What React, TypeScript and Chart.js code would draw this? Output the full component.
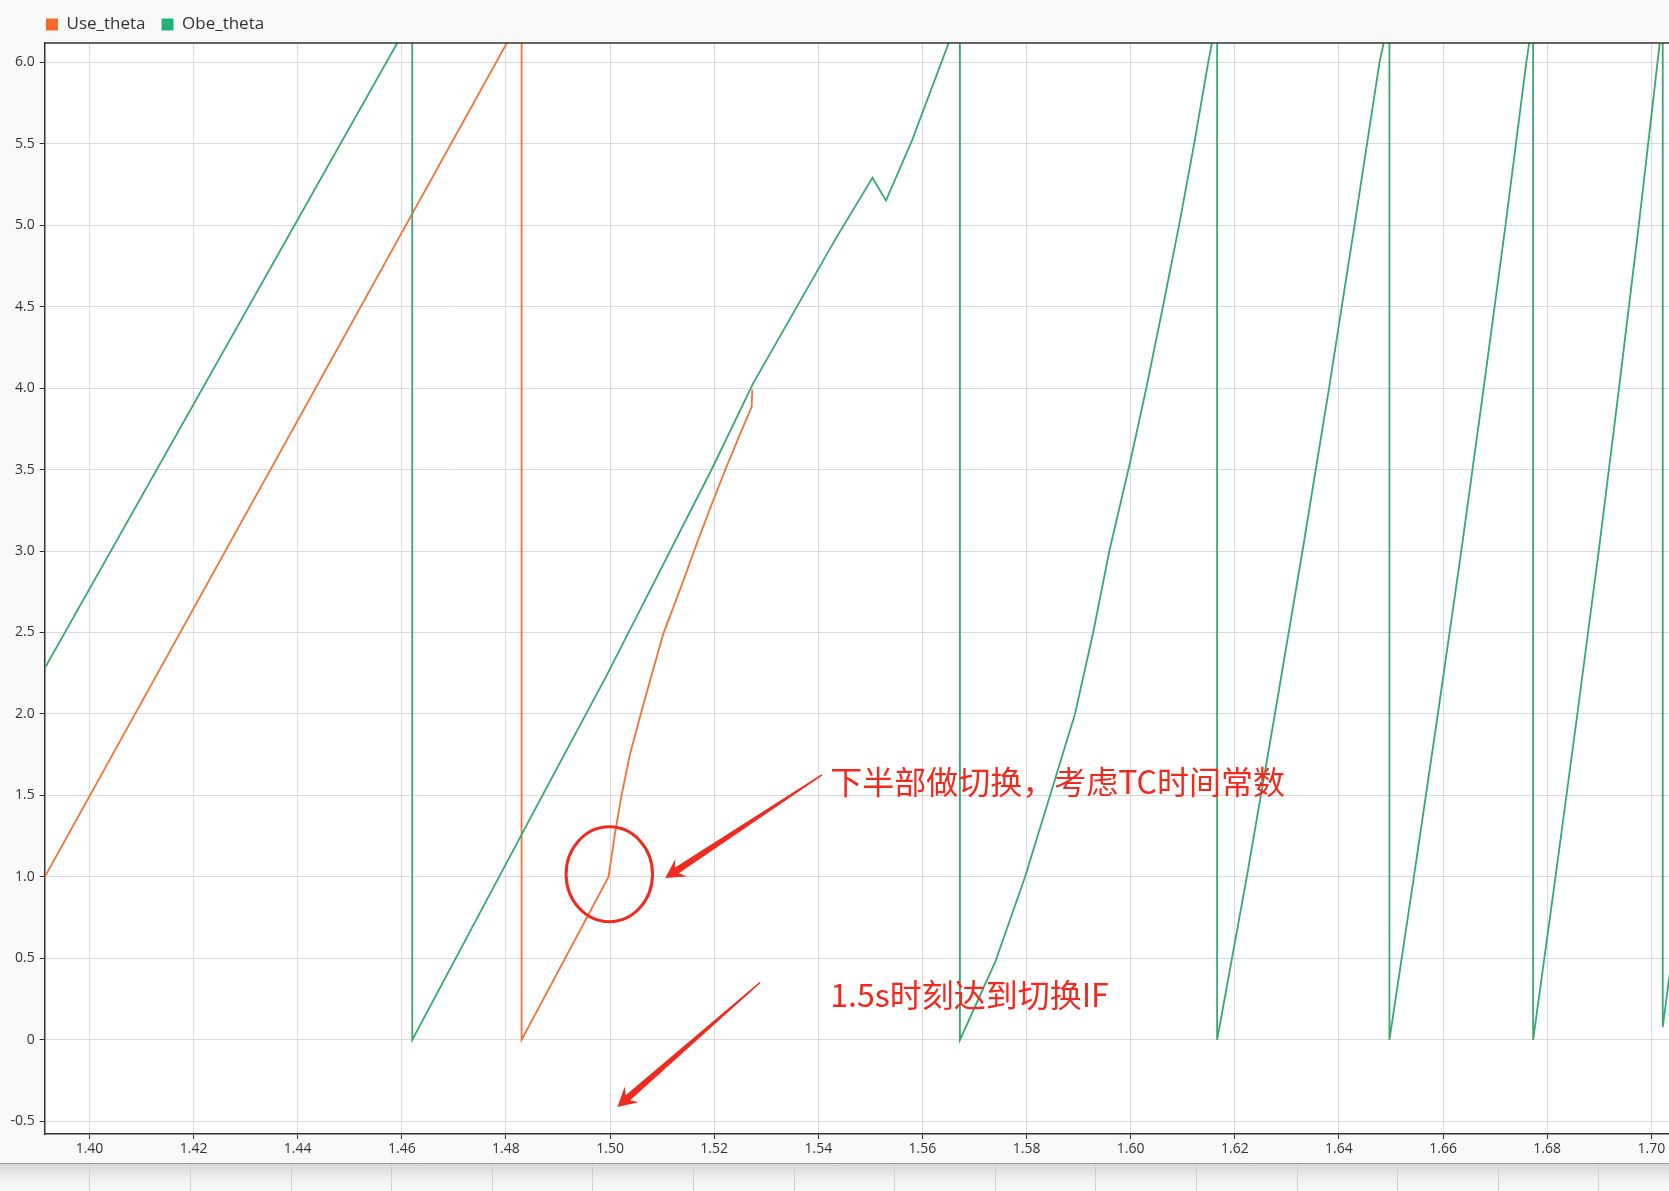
import { useEffect, useRef } from 'react';
import { Chart, registerables } from 'chart.js';

Chart.register(...registerables);

// ---------- data ----------
const seriesNames = ['Use_theta', 'Obe_theta'];

const useTime = [1.3914, 1.4830, 1.4830, 1.4997, 1.5010, 1.5022, 1.5038, 1.5064, 1.5102, 1.5141, 1.5167, 1.5198, 1.5224, 1.5250, 1.5272, 1.5273];
const useTheta = [1.00, 6.28, 0.00, 1.00, 1.28, 1.50, 1.75, 2.06, 2.49, 2.82, 3.05, 3.31, 3.52, 3.72, 3.885, 3.99];

const obeTime = [
  1.3914, 1.4620, 1.4620, 1.4865, 1.4994, 1.5195, 1.5275, 1.5434, 1.5504, 1.5530, 1.5580, 1.5672,
  1.5672, 1.5740, 1.5797, 1.5850, 1.5893, 1.5928, 1.5959, 1.6000, 1.6030, 1.6062, 1.6093, 1.6122, 1.6149, 1.6166,
  1.6166, 1.6223, 1.6277, 1.6330, 1.6381, 1.6430, 1.6478, 1.6497,
  1.6497, 1.6544, 1.6590, 1.6635, 1.6678, 1.6720, 1.6760, 1.6773,
  1.6773, 1.6816, 1.6858, 1.6899, 1.6938, 1.6976, 1.7012, 1.7022,
  1.7022, 1.7036,
];
const obeTheta = [
  2.28, 6.28, 0.00, 1.47, 2.24, 3.50, 4.03, 4.92, 5.29, 5.15, 5.52, 6.30,
  0.00, 0.48, 1.00, 1.55, 2.00, 2.50, 3.00, 3.56, 4.00, 4.50, 5.00, 5.50, 6.00, 6.28,
  0.00, 1.00, 2.00, 3.00, 4.00, 5.00, 6.00, 6.28,
  0.00, 1.00, 2.00, 3.00, 4.00, 5.00, 6.00, 6.28,
  0.00, 1.00, 2.00, 3.00, 4.00, 5.00, 6.00, 6.28,
  0.08, 0.42,
];

const xTickValues = [1.40, 1.42, 1.44, 1.46, 1.48, 1.50, 1.52, 1.54, 1.56, 1.58, 1.60, 1.62, 1.64, 1.66, 1.68, 1.70];
const yTickValues = [-0.5, 0, 0.5, 1.0, 1.5, 2.0, 2.5, 3.0, 3.5, 4.0, 4.5, 5.0, 5.5, 6.0];
const xRange = [1.3914, 1.7034];
const yRange = [-0.577, 6.117];

const noteTexts = ['下半部做切换，考虑TC时间常数', '1.5s时刻达到切换IF'];

// ---------- styling / annotation placement (in data units) ----------
const lineColors = ['#F07339', '#39A871'];
const legendColors = ['#F56A2C', '#22B27A'];
const noteColor = '#EF2A1F';
const notePos = [
  { x: 1.5423, y: 1.583 },
  { x: 1.5423, y: 0.276 },
];
const arrowDefs = [
  { from: { x: 1.5407, y: 1.626 }, to: { x: 1.5106, y: 0.993 } },
  { from: { x: 1.5288, y: 0.353 }, to: { x: 1.5014, y: -0.411 } },
];
const ring = { x: 1.49985, y: 1.017, dx: 0.0083, dy: 0.291 };

const FONT = "'Open Sans', 'Noto Sans', sans-serif";
const CJK = "'Noto Sans CJK SC', 'Noto Sans', sans-serif";
const W = 1669;
const H = 1191;
const STRIP_H = 28;
const LEGEND_LEFT = 30;

function toPoints(xs: number[], ys: number[]) {
  return xs.map((x, i) => ({ x, y: ys[i] }));
}

const decorPlugin = {
  id: 'decor',
  afterLayout(chart: any) {
    if (chart.legend) {
      chart.legend.left = LEGEND_LEFT;
    }
  },
  beforeDraw(chart: any) {
    const { ctx, chartArea: a } = chart;
    ctx.save();
    ctx.fillStyle = '#f9f9f9';
    ctx.fillRect(0, 0, chart.width, chart.height);
    ctx.fillStyle = '#ffffff';
    ctx.fillRect(a.left, a.top, a.right - a.left, a.bottom - a.top);
    ctx.restore();
  },
  afterDraw(chart: any) {
    const { ctx, chartArea: a, scales } = chart;
    const xs = scales.x;
    const ys = scales.y;
    ctx.save();
    // top border
    ctx.strokeStyle = '#333';
    ctx.lineWidth = 1.4;
    ctx.beginPath();
    ctx.moveTo(a.left, a.top);
    ctx.lineTo(a.right, a.top);
    ctx.stroke();

    // bottom strip (scroll/overview band)
    const sy = chart.height - STRIP_H;
    const g = ctx.createLinearGradient(0, sy, 0, chart.height);
    g.addColorStop(0, '#d6d6d6');
    g.addColorStop(0.5, '#ededed');
    g.addColorStop(1, '#fbfbfb');
    ctx.fillStyle = g;
    ctx.fillRect(0, sy, chart.width, STRIP_H);
    ctx.strokeStyle = '#9a9a9a';
    ctx.lineWidth = 1;
    ctx.beginPath();
    ctx.moveTo(0, sy + 0.5);
    ctx.lineTo(chart.width, sy + 0.5);
    ctx.stroke();
    ctx.strokeStyle = '#d0d0d0';
    for (let i = 0; i < 17; i++) {
      const px = Math.round(89.4 + i * 100.6) + 0.5;
      ctx.beginPath();
      ctx.moveTo(px, sy + 1);
      ctx.lineTo(px, chart.height);
      ctx.stroke();
    }

    // annotations
    ctx.fillStyle = noteColor;
    ctx.strokeStyle = noteColor;
    ctx.font = `32px ${CJK}`;
    ctx.textBaseline = 'middle';
    ctx.textAlign = 'left';
    noteTexts.forEach((t, i) => {
      ctx.fillText(t, xs.getPixelForValue(notePos[i].x), ys.getPixelForValue(notePos[i].y));
    });

    arrowDefs.forEach((ad) => {
      const x0 = xs.getPixelForValue(ad.from.x);
      const y0 = ys.getPixelForValue(ad.from.y);
      const x1 = xs.getPixelForValue(ad.to.x);
      const y1 = ys.getPixelForValue(ad.to.y);
      const dx = x0 - x1;
      const dy = y0 - y1;
      const L = Math.hypot(dx, dy);
      const ux = dx / L;
      const uy = dy / L;
      const nx = -uy;
      const ny = ux;
      const P = (al: number, pe: number) => [x1 + ux * al + nx * pe, y1 + uy * al + ny * pe];
      const pts = [P(0, 0), P(19, 10.5), P(14, 3.4), P(L, 0.7), P(L, -0.7), P(14, -3.4), P(19, -10.5)];
      ctx.beginPath();
      ctx.moveTo(pts[0][0], pts[0][1]);
      for (let i = 1; i < pts.length; i++) ctx.lineTo(pts[i][0], pts[i][1]);
      ctx.closePath();
      ctx.fill();
    });

    const cx = xs.getPixelForValue(ring.x);
    const cy = ys.getPixelForValue(ring.y);
    const rx = Math.abs(xs.getPixelForValue(ring.x + ring.dx) - cx);
    const ry = Math.abs(ys.getPixelForValue(ring.y + ring.dy) - cy);
    ctx.lineWidth = 3;
    ctx.beginPath();
    ctx.ellipse(cx, cy, rx, ry, 0, 0, Math.PI * 2);
    ctx.stroke();
    ctx.restore();
  },
};

export default function App() {
  const ref = useRef<HTMLCanvasElement>(null);

  useEffect(() => {
    document.body.style.margin = '0';
    const canvas = ref.current;
    if (!canvas) return;
    Chart.defaults.font.family = FONT;
    const chart = new Chart(canvas, {
      type: 'line',
      data: {
        datasets: [
          {
            label: seriesNames[0],
            data: toPoints(useTime, useTheta),
            borderColor: lineColors[0],
            backgroundColor: legendColors[0],
            borderWidth: 1.8,
            pointRadius: 0,
            tension: 0,
            order: 2,
          },
          {
            label: seriesNames[1],
            data: toPoints(obeTime, obeTheta),
            borderColor: lineColors[1],
            backgroundColor: legendColors[1],
            borderWidth: 1.8,
            pointRadius: 0,
            tension: 0,
            order: 1,
          },
        ],
      },
      options: {
        animation: false,
        responsive: false,
        devicePixelRatio: 1,
        parsing: false as any,
        layout: { padding: { left: 0, top: 0, right: 0, bottom: STRIP_H } },
        plugins: {
          legend: {
            display: true,
            position: 'top',
            align: 'start',
            labels: {
              boxWidth: 12,
              boxHeight: 12,
              padding: 16,
              color: '#333',
              font: { family: FONT, size: 17 },
              sort: (a: any, b: any) => a.datasetIndex - b.datasetIndex,
              generateLabels: (c: any) =>
                (Chart.defaults.plugins.legend.labels.generateLabels as any)(c).map((it: any) => ({
                  ...it,
                  fillStyle: legendColors[it.datasetIndex],
                  strokeStyle: legendColors[it.datasetIndex],
                  lineWidth: 0,
                })),
            },
          },
          tooltip: { enabled: false },
        },
        scales: {
          x: {
            type: 'linear',
            min: xRange[0],
            max: xRange[1],
            afterBuildTicks: (s: any) => {
              s.ticks = xTickValues.map((v) => ({ value: v }));
            },
            afterFit: (s: any) => {
              s.height = 29;
            },
            grid: { color: '#d9d9d9', lineWidth: 1, drawTicks: true, tickLength: 5, tickColor: '#333' },
            border: { display: true, color: '#333', width: 1.5 },
            ticks: {
              padding: 2,
              color: '#333',
              font: { family: FONT, size: 14 },
              autoSkip: false,
              maxRotation: 0,
              callback: (v: any) => Number(v).toFixed(2),
            },
          },
          y: {
            type: 'linear',
            min: yRange[0],
            max: yRange[1],
            afterBuildTicks: (s: any) => {
              s.ticks = yTickValues.map((v) => ({ value: v }));
            },
            afterFit: (s: any) => {
              s.width = 44.7;
            },
            grid: { color: '#d9d9d9', lineWidth: 1, drawTicks: true, tickLength: 5, tickColor: '#333' },
            border: { display: true, color: '#333', width: 1.5 },
            ticks: {
              padding: 5,
              color: '#333',
              font: { family: FONT, size: 14 },
              autoSkip: false,
              callback: (v: any) => (Number(v) === 0 ? '0' : Number(v).toFixed(1)),
            },
          },
        },
      },
      plugins: [decorPlugin],
    });
    return () => chart.destroy();
  }, []);

  return (
    <div style={{ position: 'absolute', left: 0, top: 0, width: W, height: H }}>
      <canvas ref={ref} width={W} height={H} style={{ display: 'block', width: W, height: H }} />
    </div>
  );
}
